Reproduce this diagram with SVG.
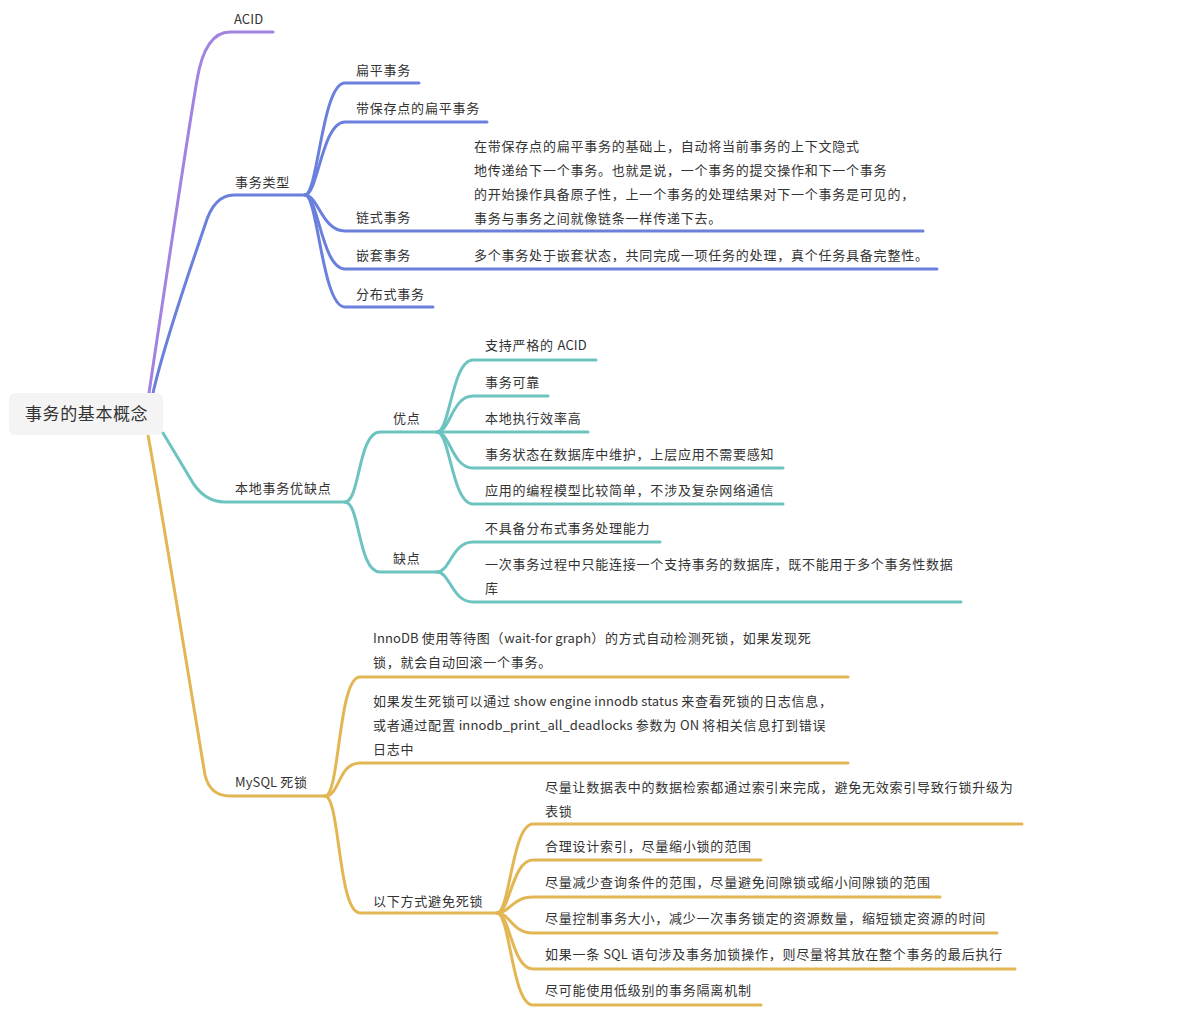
<svg xmlns="http://www.w3.org/2000/svg" width="1200" height="1035" viewBox="0 0 1200 1035">
<style>
text{font-family:"Noto Sans CJK SC","Noto Sans",sans-serif;font-size:13px;fill:#333;letter-spacing:0.78px}
.root{font-size:17px;letter-spacing:0.6px}
.l{letter-spacing:0.1px}
path{fill:none;stroke-width:3;stroke-linecap:round;stroke-linejoin:round}
.p{stroke:#a283e0}.b{stroke:#6a80dc}.t{stroke:#6cc3c0}.g{stroke:#e3b654}
</style>
<rect width="1200" height="1035" fill="#fff"/>
<g id="connectors">
<path class="p" d="M149,393 C160,320 185,150 197,80 Q205,32 230,32 L273,32"/>
<path class="b" d="M153,393 C165,340 190,270 205,225 Q214,195 234,195 L305,195"/>
<path class="b" d="M305,195 C318,195 322,83 345,83 L419,83"/>
<path class="b" d="M305,195 C318,195 322,122 345,122 L487,122"/>
<path class="b" d="M305,195 C318,195 322,231 345,231 L923,231"/>
<path class="b" d="M305,195 C318,195 322,269 345,269 L937,269"/>
<path class="b" d="M305,195 C318,195 322,307 345,307 L433,307"/>
<path class="t" d="M163,433 L190,478 Q203,502 225,502 L345,502"/>
<path class="t" d="M345,502 C360,502 358,432 380,432 L437,432"/>
<path class="t" d="M345,502 C360,502 358,572 380,572 L437,572"/>
<path class="t" d="M437,432 C450,432 452,360 473,360 L596,360"/>
<path class="t" d="M437,432 C450,432 452,396 473,396 L548,396"/>
<path class="t" d="M437,432 L588,432"/>
<path class="t" d="M437,432 C450,432 452,468 473,468 L783,468"/>
<path class="t" d="M437,432 C450,432 452,504 473,504 L783,504"/>
<path class="t" d="M437,572 C450,572 452,542 473,542 L660,542"/>
<path class="t" d="M437,572 C450,572 452,602 473,602 L961,602"/>
<path class="g" d="M148,435 C160,500 195,715 205,775 Q210,796 230,796 L325,796"/>
<path class="g" d="M325,796 C340,796 338,677 360,677 L848,677"/>
<path class="g" d="M325,796 C340,796 338,763 360,763 L848,763"/>
<path class="g" d="M325,796 C340,796 338,913 360,913 L497,913"/>
<path class="g" d="M497,913 C510,913 512,824 533,824 L1022,824"/>
<path class="g" d="M497,913 C510,913 512,860 533,860 L761,860"/>
<path class="g" d="M497,913 C510,913 512,897 533,897 L940,897"/>
<path class="g" d="M497,913 C510,913 512,933 533,933 L997,933"/>
<path class="g" d="M497,913 C510,913 512,969 533,969 L1015,969"/>
<path class="g" d="M497,913 C510,913 512,1005 533,1005 L761,1005"/>
</g>
<g id="root"><rect x="9" y="393" width="154" height="42" rx="6" fill="#f4f4f4"/><text class="root" x="25" y="420">事务的基本概念</text></g>
<g id="acid"><text x="234" y="24" class="l">ACID</text></g>
<g id="types"><text x="235" y="186.5">事务类型</text></g>
<g id="flat"><text x="356" y="74.5">扁平事务</text></g>
<g id="savepoint"><text x="356" y="112.5">带保存点的扁平事务</text></g>
<g id="chain"><text x="356" y="221.5">链式事务</text>
<text x="474" y="150.5">在带保存点的扁平事务的基础上，自动将当前事务的上下文隐式</text>
<text x="474" y="174.5">地传递给下一个事务。也就是说，一个事务的提交操作和下一个事务</text>
<text x="474" y="198.5">的开始操作具备原子性，上一个事务的处理结果对下一个事务是可见的，</text>
<text x="474" y="222.5">事务与事务之间就像链条一样传递下去。</text></g>
<g id="nested"><text x="356" y="259.5">嵌套事务</text><text x="474" y="259.5">多个事务处于嵌套状态，共同完成一项任务的处理，真个任务具备完整性。</text></g>
<g id="distributed"><text x="356" y="298.5">分布式事务</text></g>
<g id="local"><text x="235" y="492.5">本地事务优缺点</text></g>
<g id="pros"><text x="393" y="422.5">优点</text></g>
<g id="cons"><text x="393" y="562.5">缺点</text></g>
<g id="pro1"><text x="485" y="349.5">支持严格的 <tspan class="l">ACID</tspan></text></g>
<g id="pro2"><text x="485" y="386.5">事务可靠</text></g>
<g id="pro3"><text x="485" y="422.5">本地执行效率高</text></g>
<g id="pro4"><text x="485" y="458.5">事务状态在数据库中维护，上层应用不需要感知</text></g>
<g id="pro5"><text x="485" y="494.5">应用的编程模型比较简单，不涉及复杂网络通信</text></g>
<g id="con1"><text x="485" y="532.5">不具备分布式事务处理能力</text></g>
<g id="con2"><text x="485" y="568.5">一次事务过程中只能连接一个支持事务的数据库，既不能用于多个事务性数据</text><text x="485" y="592.5">库</text></g>
<g id="mysql"><text x="235" y="786.5"><tspan class="l">MySQL </tspan>死锁</text></g>
<g id="innodb"><text x="373" y="642.5"><tspan class="l">InnoDB </tspan>使用等待图（<tspan class="l">wait-for graph</tspan>）的方式自动检测死锁，如果发现死</text><text x="373" y="666.5">锁，就会自动回滚一个事务。</text></g>
<g id="status"><text x="373" y="705.5">如果发生死锁可以通过<tspan class="l"> show engine innodb status </tspan>来查看死锁的日志信息，</text><text x="373" y="729.5">或者通过配置<tspan class="l"> innodb_print_all_deadlocks </tspan>参数为<tspan class="l"> ON </tspan>将相关信息打到错误</text><text x="373" y="753.5">日志中</text></g>
<g id="avoid"><text x="373" y="905.5">以下方式避免死锁</text></g>
<g id="a1"><text x="545" y="791.5">尽量让数据表中的数据检索都通过索引来完成，避免无效索引导致行锁升级为</text><text x="545" y="815.5">表锁</text></g>
<g id="a2"><text x="545" y="850.5">合理设计索引，尽量缩小锁的范围</text></g>
<g id="a3"><text x="545" y="886.5">尽量减少查询条件的范围，尽量避免间隙锁或缩小间隙锁的范围</text></g>
<g id="a4"><text x="545" y="922.5">尽量控制事务大小，减少一次事务锁定的资源数量，缩短锁定资源的时间</text></g>
<g id="a5"><text x="545" y="958.5">如果一条<tspan class="l"> SQL </tspan>语句涉及事务加锁操作，则尽量将其放在整个事务的最后执行</text></g>
<g id="a6"><text x="545" y="994.5">尽可能使用低级别的事务隔离机制</text></g>
</svg>
